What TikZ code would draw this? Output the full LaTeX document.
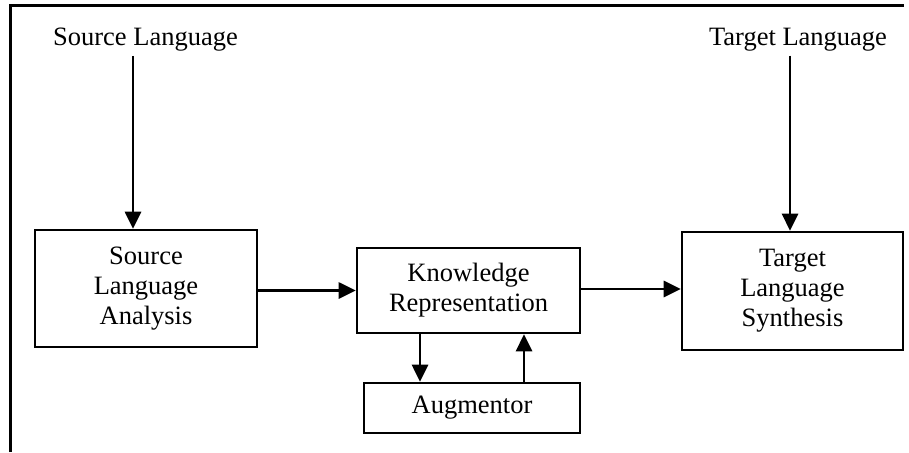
\documentclass[tikz,border=0pt]{standalone}
\usepackage{fontspec}
\setmainfont{Liberation Serif}
\usetikzlibrary{arrows.meta}
\begin{document}
\begin{tikzpicture}[x=1pt,y=-1pt,
  txt/.style={font=\fontsize{26.5}{30}\selectfont, inner sep=0pt, align=center},
  blockbox/.style={txt, draw, line width=2.6pt},
  flow/.style={line width=2.8pt, -{Triangle[length=17pt,width=16pt]}},
  frameline/.style={line width=3.4pt}]
  \useasboundingbox (0,0) rectangle (909,452);

  % open frame: top and left edges only
  \draw[frameline] (10.5,452) -- (10.5,5.5) -- (904,5.5);

  % input and output labels
  \node[txt, inner ysep=4pt] (slabel) at (145.5,40) {Source Language};
  \node[txt, inner ysep=4pt] (tlabel) at (798,40) {Target Language};

  % processing blocks
  \node[blockbox, minimum width=222pt, minimum height=117pt] (sla) at (146,288.5)
    {Source\\Language\\Analysis};
  \node[blockbox, minimum width=223pt, minimum height=85pt] (kr) at (468.5,290.5)
    {Knowledge\\Representation};
  \node[blockbox, minimum width=216pt, minimum height=50pt] (aug) at (472,408)
    {Augmentor};
  \node[blockbox, minimum width=221pt, minimum height=118pt] (tls) at (792.5,291)
    {Target\\Language\\Synthesis};

  % columns of the vertical connectors
  \coordinate (sx) at (133,0);
  \coordinate (tx) at (790,0);
  \coordinate (dx) at (420,0);
  \coordinate (ux) at (524,0);

  % connectors
  \draw[flow] (slabel.south -| sx) -- (sla.north -| sx);
  \draw[flow] (tlabel.south -| tx) -- (tls.north -| tx);
  \draw[flow] (sla.east |- kr.west) -- (kr.west);
  \draw[flow] ([yshift=1.5pt]kr.east) -- ([yshift=1.5pt]kr.east -| tls.west);
  \draw[flow] (kr.south -| dx) -- (aug.north -| dx);
  \draw[flow] (aug.north -| ux) -- (kr.south -| ux);
\end{tikzpicture}
\end{document}
